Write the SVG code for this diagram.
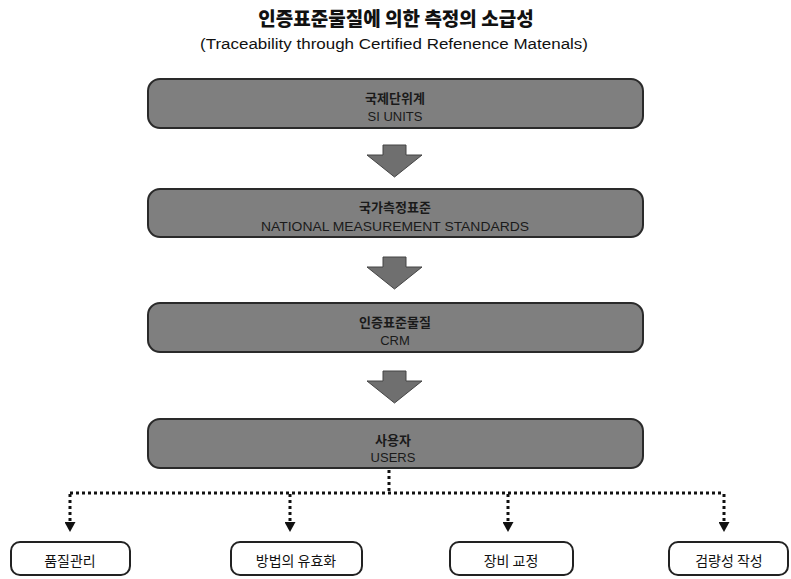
<svg xmlns="http://www.w3.org/2000/svg" width="791" height="579" viewBox="0 0 791 579">
<style>
.title{font-family:"Noto Sans CJK KR","Noto Sans",sans-serif;font-weight:900;font-size:19px;fill:#111;text-anchor:middle}
.sub{font-family:"Liberation Sans",Arial,sans-serif;font-size:14px;fill:#111;text-anchor:middle}
.band{fill:#7f7f7f;stroke:#2a2a2a;stroke-width:2}
.ko{font-family:"Noto Sans CJK KR",sans-serif;font-weight:bold;font-size:13px;fill:#1a1a1a;text-anchor:middle}
.en{font-family:"Liberation Sans",Arial,sans-serif;font-size:13px;fill:#1a1a1a;text-anchor:middle}
.blk{fill:#6f6f6f;stroke:#444;stroke-width:1}
.dot{fill:none;stroke:#111;stroke-width:3;stroke-dasharray:3 3}
.leaf{fill:#fff;stroke:#222;stroke-width:2}
.lt{font-family:"Noto Sans CJK KR",sans-serif;font-size:14px;fill:#111;text-anchor:middle}
</style>
<defs>
<marker id="ah" markerWidth="10" markerHeight="11" refX="0" refY="5.5" orient="auto" markerUnits="userSpaceOnUse" viewBox="0 0 10 11">
<path d="M0,0 L10,5.5 L0,11 Z" fill="#111"/>
</marker>
</defs>
<text class="title" x="396" y="26">인증표준물질에 의한 측정의 소급성</text>
<text class="sub" x="394" y="49" textLength="388" lengthAdjust="spacingAndGlyphs">(Traceability through Certified Refenence Matenals)</text>

<g id="n1">
<rect class="band" x="148" y="79" width="495" height="49" rx="12"/>
<text class="ko" x="395" y="103">국제단위계</text>
<text class="en" x="395" y="121">SI UNITS</text>
</g>
<g id="n2">
<rect class="band" x="148" y="189" width="495" height="48" rx="12"/>
<text class="ko" x="395" y="212">국가측정표준</text>
<text class="en" x="395" y="231" textLength="268" lengthAdjust="spacingAndGlyphs">NATIONAL MEASUREMENT STANDARDS</text>
</g>
<g id="n3">
<rect class="band" x="148" y="303" width="495" height="49" rx="12"/>
<text class="ko" x="395" y="327">인증표준물질</text>
<text class="en" x="395" y="345">CRM</text>
</g>
<g id="n4">
<rect class="band" x="148" y="419" width="495" height="49" rx="12"/>
<text class="ko" x="393" y="445">사용자</text>
<text class="en" x="393" y="462">USERS</text>
</g>

<g id="connectors">
<path class="blk" d="M383,145 H406 V155 H422 L394.5,177 L367,155 H383 Z"/>
<path class="blk" d="M383,257 H406 V267 H422 L394.5,289 L367,267 H383 Z"/>
<path class="blk" d="M383,371 H406 V381 H422 L394.5,403 L367,381 H383 Z"/>
<path class="dot" d="M389,470 V493"/>
<path class="dot" d="M70,493 H724"/>
<path class="dot" d="M70,494 V522" marker-end="url(#ah)"/>
<path class="dot" d="M290,494 V522" marker-end="url(#ah)"/>
<path class="dot" d="M508,494 V522" marker-end="url(#ah)"/>
<path class="dot" d="M724,494 V522" marker-end="url(#ah)"/>
</g>

<g id="l1">
<rect class="leaf" x="11" y="542" width="119" height="33" rx="9"/>
<text class="lt" x="70" y="566">품질관리</text>
</g>
<g id="l2">
<rect class="leaf" x="231" y="542" width="131" height="33" rx="9"/>
<text class="lt" x="296" y="566">방법의 유효화</text>
</g>
<g id="l3">
<rect class="leaf" x="450" y="542" width="123" height="33" rx="9"/>
<text class="lt" x="511" y="566">장비 교정</text>
</g>
<g id="l4">
<rect class="leaf" x="669" y="542" width="119" height="33" rx="9"/>
<text class="lt" x="729" y="566">검량성 작성</text>
</g>
</svg>
